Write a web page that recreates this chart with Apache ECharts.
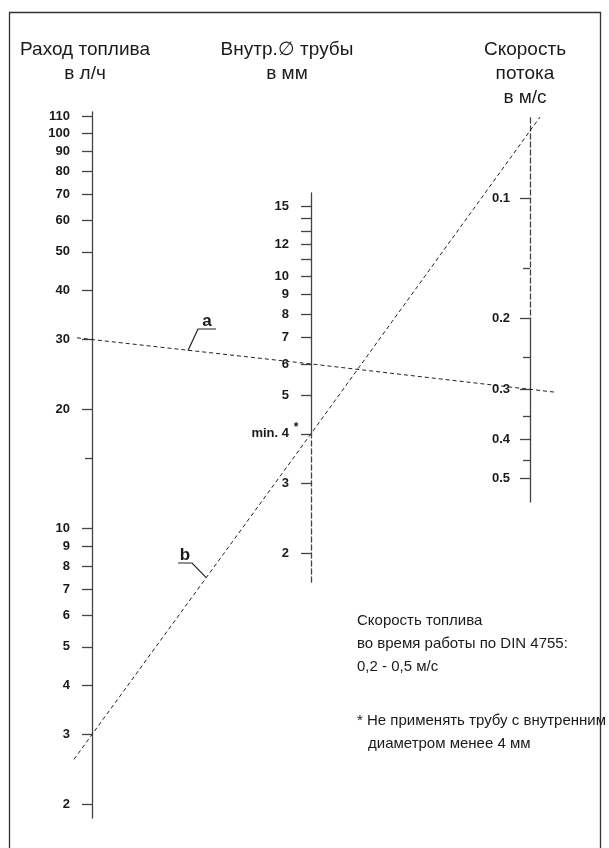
<!DOCTYPE html>
<html><head><meta charset="utf-8">
<script src="https://cdn.jsdelivr.net/npm/echarts@6/dist/echarts.min.js"></script>
<style>html,body{margin:0;padding:0;background:#fff}#c{width:609px;height:848px}</style>
</head><body><div id="c"></div>
<script>
// ---------- data ----------
const flowTicks = [2, 3, 4, 5, 6, 7, 8, 9, 10, 20, 30, 40, 50, 60, 70, 80, 90, 100, 110];
const flowMinorTicks = [15];
const diamTicks = [2, 3, 4, 5, 6, 7, 8, 9, 10, 11, 12, 13, 14, 15];
const diamLabels = [2, 3, 4, 5, 6, 7, 8, 9, 10, 12, 15];
const speedTicks = [0.1, 0.2, 0.3, 0.4, 0.5];
const speedMinorTicks = [0.15, 0.25, 0.35, 0.45];
const exampleNames = ['a', 'b'];
const exampleFlow = [30, 3];      // л/ч
const exampleDiam = [6, 4];       // мм
const exampleSpeed = [0.3, 0.068]; // м/с
const headerFlow = ['Раход топлива', 'в л/ч'];
const headerDiam = ['Внутр.∅ трубы', 'в мм'];
const headerSpeed = ['Скорость', 'потока', 'в м/с'];
const noteSpeed = ['Скорость топлива', 'во время работы по DIN 4755:', '0,2 - 0,5 м/с'];
const noteStar = ['* Не применять трубу с внутренним', 'диаметром менее 4 мм'];
const minLabelPrefix = 'min. ';

// ---------- layout / style ----------
const SCALES = {
  flow:  {x: 92,  ref: 10,  refY: 528, decade: 395,   inverse: false, labelMargin: 22, fmt: v => String(Math.round(v))},
  diam:  {x: 311, ref: 10,  refY: 276, decade: 396.5, inverse: false, labelMargin: 22, fmt: v => { const r = Math.round(v); return r === 4 ? minLabelPrefix + r : String(r); }},
  speed: {x: 530, ref: 0.1, refY: 198, decade: 401,   inverse: true,  labelMargin: 20, fmt: v => v.toFixed(1)}
};
const SEGMENTS = [
  {scale: 'flow',  top: 112, bottom: 818, dashed: false, ticks: flowTicks,  labels: flowTicks,  minor: flowMinorTicks},
  {scale: 'diam',  top: 193, bottom: 434, dashed: false, ticks: diamTicks,  labels: diamLabels, minor: []},
  {scale: 'diam',  top: 434, bottom: 582, dashed: true,  ticks: diamTicks,  labels: diamLabels, minor: []},
  {scale: 'speed', top: 118, bottom: 318, dashed: true,  ticks: speedTicks, labels: speedTicks, minor: speedMinorTicks},
  {scale: 'speed', top: 318, bottom: 502, dashed: false, ticks: speedTicks, labels: speedTicks, minor: speedMinorTicks}
];
const AXIS_COLOR = '#444';
const TEXT_COLOR = '#1a1a1a';
const TICK_FONT = "'Liberation Sans', Arial, sans-serif";
const TEXT_FONT = "'Liberation Sans', Arial, sans-serif";
const LINE_EXT = {a: [77, 555], b: [74, 540]};

function logAt(s, y) {
  return s.inverse ? Math.log10(s.ref) + (y - s.refY) / s.decade
                   : Math.log10(s.ref) + (s.refY - y) / s.decade;
}

const grids = [], xAxes = [], yAxes = [];
const mainAxisOf = {};
SEGMENTS.forEach((seg, i) => {
  const s = SCALES[seg.scale];
  grids.push({left: s.x, top: seg.top, height: seg.bottom - seg.top, width: 10, containLabel: false});
  xAxes.push({type: 'value', gridIndex: i, show: false, min: 0, max: 1});
  const a = logAt(s, seg.top), b = logAt(s, seg.bottom);
  const mn = Math.min(a, b), mx = Math.max(a, b);
  if (mainAxisOf[seg.scale] === undefined) mainAxisOf[seg.scale] = yAxes.length;
  yAxes.push({
    type: 'value', gridIndex: i, position: 'left', min: mn, max: mx, inverse: s.inverse,
    splitLine: {show: false},
    axisLine: {show: true, lineStyle: {color: AXIS_COLOR, width: 1.3, type: seg.dashed ? [5, 3] : 'solid'}},
    axisTick: {show: true, length: 10, lineStyle: {color: AXIS_COLOR, width: 1.3},
               customValues: seg.ticks.map(Math.log10)},
    axisLabel: {show: true, margin: s.labelMargin, customValues: seg.labels.map(Math.log10),
                color: TEXT_COLOR, fontFamily: TICK_FONT, fontWeight: 'bold', fontSize: 13,
                formatter: v => s.fmt(Math.pow(10, v))}
  });
  yAxes.push({
    type: 'value', gridIndex: i, position: 'left', min: mn, max: mx, inverse: s.inverse,
    splitLine: {show: false}, axisLine: {show: false}, axisLabel: {show: false},
    axisTick: {show: seg.minor.length > 0, length: 7, lineStyle: {color: AXIS_COLOR, width: 1.3},
               customValues: seg.minor.length ? seg.minor.map(Math.log10) : [Math.log10(s.ref)]}
  });
});
// overlay pixel-space grid for the example lines
const OV = SEGMENTS.length;
grids.push({left: 0, top: 0, right: 0, bottom: 0});
xAxes.push({type: 'value', gridIndex: OV, show: false, min: 0, max: 609});
yAxes.push({type: 'value', gridIndex: OV, show: false, min: 0, max: 848, inverse: true});
const OVY = yAxes.length - 1;

const chart = echarts.init(document.getElementById('c'), null, {renderer: 'canvas'});
chart.setOption({
  animation: false,
  backgroundColor: '#fff',
  grid: grids, xAxis: xAxes, yAxis: yAxes,
  series: []
});

function yOf(scale, value) {
  return chart.convertToPixel({yAxisIndex: mainAxisOf[scale]}, Math.log10(value));
}
const series = [], lineGeom = {};
exampleNames.forEach((name, k) => {
  const pL = [SCALES.flow.x, yOf('flow', exampleFlow[k])];
  const pM = [SCALES.diam.x, yOf('diam', exampleDiam[k])];
  const pR = [SCALES.speed.x, yOf('speed', exampleSpeed[k])];
  const slope = (pR[1] - pL[1]) / (pR[0] - pL[0]);
  const at = x => pL[1] + slope * (x - pL[0]);
  lineGeom[name] = at;
  const ext = LINE_EXT[name];
  series.push({
    type: 'line', name: name, xAxisIndex: OV, yAxisIndex: OVY, symbol: 'none', silent: true,
    lineStyle: {color: '#222', width: 1, type: [4, 3]},
    data: [[ext[0], at(ext[0])], pL, pM, pR, [ext[1], at(ext[1])]]
  });
});

const txt = (x, y, text, o) => Object.assign({type: 'text', x: x, y: y, silent: true,
  style: Object.assign({text: text, fill: TEXT_COLOR, font: '19px ' + TEXT_FONT, align: 'center', verticalAlign: 'top', lineHeight: 24}, o || {})});
const poly = pts => ({type: 'polyline', silent: true, shape: {points: pts}, style: {stroke: '#222', lineWidth: 1.2, fill: null}});
const NOTE = {align: 'left', font: '15px ' + TEXT_FONT, lineHeight: 23};

const graphic = [
  {type: 'rect', silent: true, shape: {x: 9.5, y: 12.5, width: 591, height: 900}, style: {stroke: '#333', lineWidth: 1.3, fill: null}},
  txt(85, 38, headerFlow.join('\n')),
  txt(287, 38, headerDiam.join('\n')),
  txt(525, 38, headerSpeed.join('\n')),
  txt(357, 609, noteSpeed.join('\n'), NOTE),
  txt(357, 709, noteStar[0], NOTE),
  txt(368, 732, noteStar[1], NOTE),
  txt(296, 416, '*', {font: 'bold 12px ' + TICK_FONT, align: 'center'}),
  // label a
  txt(207, 330, exampleNames[0], {font: 'bold 17px ' + TICK_FONT, verticalAlign: 'bottom', lineHeight: 17}),
  poly([[216, 329], [198, 329], [188, lineGeom.a(188)]]),
  // label b
  txt(185, 564, exampleNames[1], {font: 'bold 17px ' + TICK_FONT, verticalAlign: 'bottom', lineHeight: 17}),
  poly([[178, 563], [192, 563], [206, lineGeom.b(206)]])
];

chart.setOption({series: series, graphic: graphic});
</script></body></html>
